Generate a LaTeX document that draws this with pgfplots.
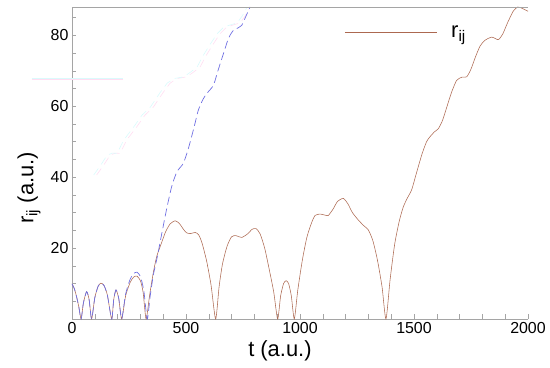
\documentclass[border=0pt]{standalone}
\usepackage{fontspec}
\setmainfont{Liberation Sans}
\usepackage{pgfplots}
\pgfplotsset{compat=1.18}
\definecolor{brn}{RGB}{172,104,80}
\definecolor{blu}{RGB}{112,112,226}
\definecolor{gpink}{RGB}{255,222,242}
\definecolor{gcyan}{RGB}{218,250,252}
\definecolor{axc}{RGB}{165,165,165}
\begin{document}
\begin{tikzpicture}
\begin{axis}[
  scale only axis, width=456bp, height=312bp,
  xmin=0, xmax=2000, ymin=0, ymax=88,
  clip=false,
  axis x line*=bottom, axis y line*=left,
  axis line style={axc, line width=0.6pt},
  every tick/.style={axc, line width=0.6pt},
  tick align=inside,
  major tick length=4.5bp, minor tick length=4.5bp,
  xtick={0,500,1000,1500,2000},
  minor xtick={100,200,300,400,600,700,800,900,1100,1200,1300,1400,1600,1700,1800,1900},
  ytick={20,40,60,80},
  minor ytick={5,10,15,25,30,35,45,50,55,65,70,75,85},
  /pgf/number format/assume math mode=true,
  /pgf/number format/1000 sep={},
  tick label style={font=\fontsize{16}{18}\selectfont, black},
  xlabel={t (a.u.)}, ylabel={r\textsubscript{ij} (a.u.)},
  label style={font=\fontsize{22}{24}\selectfont},
  xlabel style={at={(axis description cs:0.456,0)}, anchor=north, yshift=-18bp},
  ylabel style={at={(axis description cs:0,0.42)}, anchor=south, yshift=28bp},
  legend style={draw=none, fill=none, at={(axis cs:1195,80.9)}, anchor=west,
    font=\fontsize{22}{24}\selectfont, inner sep=0pt},
  legend image code/.code={\draw[#1] (0bp,0bp) -- (92bp,0bp);},
  legend cell align=left,
]
% faint ghost curves
\addplot[gpink, line width=0.6pt, dash pattern=on 8bp off 5bp, forget plot] coordinates {
(108,40.6)(140,43.5)(167,46.2)(190,46.8)(211,46.7)(240,50.5)(284,54.2)(320,57.5)(357,59.8)(380,62)(401,64)(430,66.5)(459,67.8)(503,68.3)(530,69.5)(561,71)(590,74.5)(620,77.6)(650,80.5)(678,82.3)(710,83)(737,83.5)(760,85.5)(781,88)};
\addplot[gcyan, line width=0.6pt, dash pattern=on 8bp off 5bp, forget plot] coordinates {
(95,40.6)(127,43.5)(154,46.2)(177,46.8)(198,46.7)(227,50.5)(271,54.2)(307,57.5)(344,59.8)(367,62)(388,64)(417,66.5)(446,67.8)(490,68.3)(517,69.5)(548,71)(577,74.5)(607,77.6)(637,80.5)(665,82.3)(697,83)(724,83.5)(747,85.5)(768,88)};
\addplot[gcyan, line width=0.8pt, forget plot] coordinates {(-177,67.9)(225,67.9)};
\addplot[gpink, line width=0.5pt, forget plot] coordinates {(-177,67.5)(225,67.5)};
% main curve
\addplot[brn, line width=0.55pt, smooth, tension=0.4] coordinates {
(0,9.9)(10,8.6)(20,6.3)(30,3.4)(40,0)(50,4.5)(64,7.7)(75,5.5)(86,0)(100,6)(115,9.3)(127,10.1)(140,9.5)(155,6.8)(174,0)(183,5.5)(193,8.2)(205,5.8)(218,0)(235,6.5)(255,10.3)(270,11.8)(285,12.1)(300,10.8)(312,7.5)(325,0)(340,6.5)(355,12.5)(371,17.5)(390,21)(410,24.5)(430,26.8)(452,27.7)(470,27)(490,25.2)(503,24.3)(520,24.1)(540,24.4)(555,23.8)(570,21.5)(590,16.5)(610,9.5)(630,0)(645,9)(660,15.5)(680,20.5)(700,23.2)(720,23.5)(744,23.0)(770,24)(790,25.3)(807,25.5)(825,24)(845,20)(865,14)(885,7.5)(902,0)(915,6.5)(928,10)(939,10.8)(950,10)(962,6.5)(975,0)(990,8)(1010,16.5)(1030,23)(1050,27)(1066,29.2)(1088,29.6)(1110,29.3)(1124,29.2)(1145,31)(1165,33.2)(1190,34.0)(1210,32.5)(1230,30)(1256,27.9)(1280,26.3)(1300,25.1)(1320,22)(1340,16.5)(1360,9)(1377,0)(1395,11)(1415,21)(1435,27.5)(1453,31.6)(1470,34)(1490,36.5)(1510,41)(1535,46.5)(1555,50)(1570,51.4)(1590,52.8)(1607,53.7)(1625,56)(1645,60)(1665,64)(1687,67.3)(1710,68.2)(1731,68.3)(1750,70.5)(1770,74)(1790,77)(1811,78.6)(1841,79.5)(1870,78.8)(1890,80.5)(1910,83.5)(1935,86.8)(1955,88)(1975,87.6)(2000,86.8)};
\addlegendentry{\hspace{12bp}r\textsubscript{ij}}
\addplot[blu, line width=0.7pt, smooth, tension=0.4, dash pattern=on 8bp off 4bp, forget plot] coordinates {
(0,9.9)(10,8.6)(20,6.3)(30,3.4)(40,0)(50,4.5)(64,7.7)(75,5.5)(86,0)(100,6)(115,9.3)(127,10.1)(140,9.5)(155,6.8)(174,0)(183,5.5)(193,8.2)(205,5.8)(218,0)(235,7)(255,11.2)(270,12.8)(285,13.2)(300,12)(315,8)(330,0)(343,6.5)(357,12.5)(374,17.5)(395,24.5)(415,31)(437,37.3)(460,41.5)(488,43.9)(510,48)(535,54)(554,58.9)(575,62)(591,63.6)(620,65.9)(640,70)(665,75)(686,79.1)(705,81.2)(722,81.9)(744,82.8)(760,85)(781,88)};
% top frame line
\draw[axc, line width=0.6pt] (rel axis cs:0,1) -- (rel axis cs:1,1);
\end{axis}
\pgfresetboundingbox
\path (-72bp,-49bp) rectangle (478bp,319bp);
\end{tikzpicture}
\end{document}
